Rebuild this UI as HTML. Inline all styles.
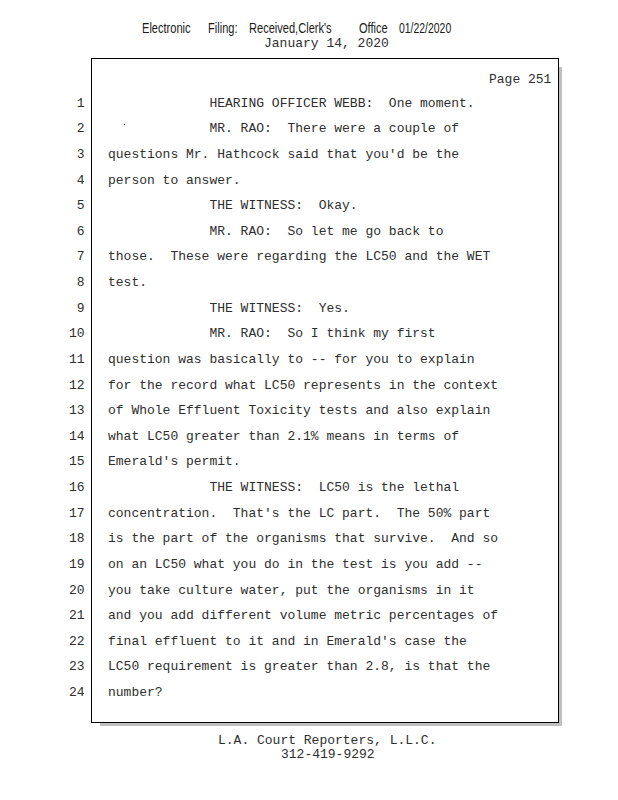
<!DOCTYPE html>
<html><head><meta charset="utf-8"><style>
html,body{margin:0;padding:0;background:#fff;width:618px;height:800px;overflow:hidden;position:relative}
.m{font-family:"Liberation Mono",monospace;font-size:13px;line-height:15px;color:#2e2e2e;white-space:pre;position:absolute}
.n{font-family:"Liberation Mono",monospace;font-size:13px;line-height:15px;color:#2e2e2e;white-space:pre;position:absolute;right:533.5px;text-align:right}
.t{font-family:"Liberation Mono",monospace;font-size:13px;line-height:15px;color:#2e2e2e;white-space:pre;position:absolute;left:108px}
.h{font-family:"Liberation Sans",sans-serif;font-size:14px;line-height:16px;color:#1a1a1a;white-space:pre;position:absolute;top:20px;transform-origin:0 0;transform:scaleX(0.79)}
#box{position:absolute;left:91px;top:58px;width:466px;height:663px;border:1px solid #000;background:#fff}
#shr{position:absolute;left:559px;top:67px;width:3px;height:659px;background:#c0c0c0}
#shb{position:absolute;left:100px;top:723px;width:462px;height:3px;background:#c0c0c0}
</style></head><body>
<div id="shr"></div><div id="shb"></div><div id="box"></div><div style="position:absolute;left:124px;top:124px;width:1px;height:1px;background:#000"></div>
<div class="h" style="left:142px">Electronic</div>
<div class="h" style="left:208px">Filing:</div>
<div class="h" style="left:249px">Received,Clerk's</div>
<div class="h" style="left:358.5px">Office</div>
<div class="h" style="left:399.3px;transform:scaleX(0.745)">01/22/2020</div>
<div class="m" style="left:264px;top:36px">January 14, 2020</div>
<div class="m" style="left:489px;top:72px">Page 251</div>
<div class="n" style="top:96.00px">1</div>
<div class="t" style="top:96.00px">             HEARING OFFICER WEBB:  One moment.</div>
<div class="n" style="top:121.00px">2</div>
<div class="t" style="top:121.00px">             MR. RAO:  There were a couple of</div>
<div class="n" style="top:147.00px">3</div>
<div class="t" style="top:147.00px">questions Mr. Hathcock said that you&#x27;d be the</div>
<div class="n" style="top:173.00px">4</div>
<div class="t" style="top:173.00px">person to answer.</div>
<div class="n" style="top:198.00px">5</div>
<div class="t" style="top:198.00px">             THE WITNESS:  Okay.</div>
<div class="n" style="top:224.00px">6</div>
<div class="t" style="top:224.00px">             MR. RAO:  So let me go back to</div>
<div class="n" style="top:249.00px">7</div>
<div class="t" style="top:249.00px">those.  These were regarding the LC50 and the WET</div>
<div class="n" style="top:275.00px">8</div>
<div class="t" style="top:275.00px">test.</div>
<div class="n" style="top:301.00px">9</div>
<div class="t" style="top:301.00px">             THE WITNESS:  Yes.</div>
<div class="n" style="top:326.00px">10</div>
<div class="t" style="top:326.00px">             MR. RAO:  So I think my first</div>
<div class="n" style="top:352.00px">11</div>
<div class="t" style="top:352.00px">question was basically to -- for you to explain</div>
<div class="n" style="top:378.00px">12</div>
<div class="t" style="top:378.00px">for the record what LC50 represents in the context</div>
<div class="n" style="top:403.00px">13</div>
<div class="t" style="top:403.00px">of Whole Effluent Toxicity tests and also explain</div>
<div class="n" style="top:429.00px">14</div>
<div class="t" style="top:429.00px">what LC50 greater than 2.1% means in terms of</div>
<div class="n" style="top:454.00px">15</div>
<div class="t" style="top:454.00px">Emerald&#x27;s permit.</div>
<div class="n" style="top:480.00px">16</div>
<div class="t" style="top:480.00px">             THE WITNESS:  LC50 is the lethal</div>
<div class="n" style="top:506.00px">17</div>
<div class="t" style="top:506.00px">concentration.  That&#x27;s the LC part.  The 50% part</div>
<div class="n" style="top:531.00px">18</div>
<div class="t" style="top:531.00px">is the part of the organisms that survive.  And so</div>
<div class="n" style="top:557.00px">19</div>
<div class="t" style="top:557.00px">on an LC50 what you do in the test is you add --</div>
<div class="n" style="top:583.00px">20</div>
<div class="t" style="top:583.00px">you take culture water, put the organisms in it</div>
<div class="n" style="top:608.00px">21</div>
<div class="t" style="top:608.00px">and you add different volume metric percentages of</div>
<div class="n" style="top:634.00px">22</div>
<div class="t" style="top:634.00px">final effluent to it and in Emerald&#x27;s case the</div>
<div class="n" style="top:659.00px">23</div>
<div class="t" style="top:659.00px">LC50 requirement is greater than 2.8, is that the</div>
<div class="n" style="top:685.00px">24</div>
<div class="t" style="top:685.00px">number?</div>
<div class="m" style="left:218px;top:733px">L.A. Court Reporters, L.L.C.</div>
<div class="m" style="left:281px;top:747px">312-419-9292</div>
</body></html>
